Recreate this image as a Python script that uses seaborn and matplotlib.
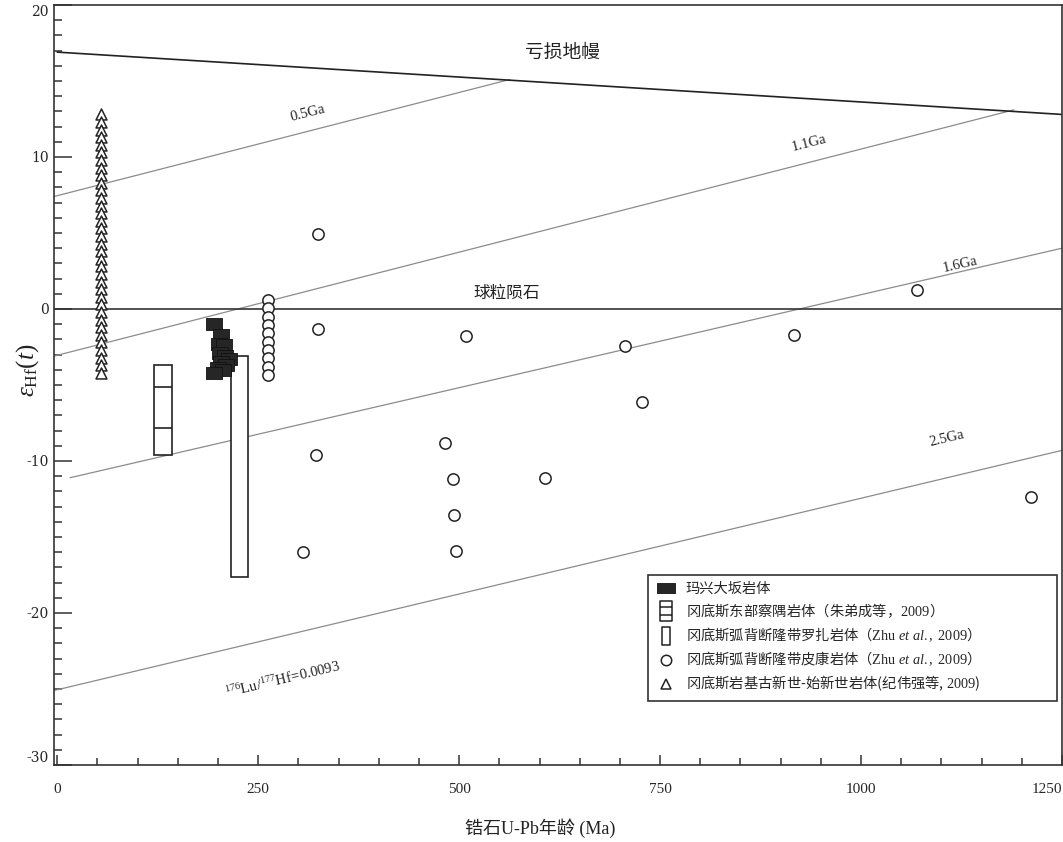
import numpy as np
import pandas as pd
import matplotlib
matplotlib.use("Agg")
import matplotlib.pyplot as plt
from matplotlib.path import Path
from matplotlib.lines import Line2D
from matplotlib.ticker import MultipleLocator
from matplotlib.font_manager import FontProperties
import seaborn as sns

# ---------------------------------------------------------------- data
# Depleted mantle and chondrite (CHUR) evolution lines: age (Ma), εHf(t)
dm_age = [0, 1250]
dm_eps = [16.9, 12.8]
chur_age = [-4, 1250]
chur_eps = [0.0, 0.0]

# Crustal model-age lines (176Lu/177Hf = 0.0093), start and end points
model_names = ["0.5Ga", "1.1Ga", "1.6Ga", "2.5Ga"]
model_age_start = [-4, -4, 16, -4]
model_eps_start = [7.4, -3.1, -11.1, -25.1]
model_age_end = [563, 1190, 1250, 1250]
model_eps_end = [15.1, 13.1, 4.0, -9.3]
model_label_age = [312, 935, 1123, 1107]
model_label_eps = [12.9, 10.9, 2.9, -8.5]
model_label_rot = [14.3, 14.4, 13.0, 13.4]

# Maxing Daban pluton (filled squares)
mx_age = [195, 204, 201, 208, 203, 209, 214, 204, 210, 200, 206, 195]
mx_eps = [-1.0, -1.7, -2.3, -2.4, -2.9, -3.1, -3.3, -3.5, -3.7, -3.9, -4.0, -4.2]

# Eastern Gangdese, Chayu pluton: age range, εHf range and inner dividers
cy_age = [120.5, 143.0]
cy_eps = [-3.7, -9.6]
cy_div = [-5.1, -7.8]

# Gangdese back-arc uplift, Luozha pluton: age range and εHf range
lz_age = [216.0, 237.0]
lz_eps = [-3.1, -17.6]

# Gangdese back-arc uplift, Pikang pluton (open circles)
pk_age = [262, 262, 262, 262, 262, 262, 262, 262, 262, 262,
          325, 324, 509, 706, 917, 1070, 728, 483, 492, 607,
          494, 496, 322, 306, 1212]
pk_eps = [0.6, 0.05, -0.5, -1.05, -1.6, -2.15, -2.7, -3.25, -3.8, -4.35,
          4.93, -1.32, -1.78, -2.43, -1.71, 1.25, -6.12, -8.82, -11.18, -11.12,
          -13.55, -15.92, -9.61, -15.99, -12.37]

# Gangdese batholith, Paleocene-Eocene plutons (open triangles)
gd_age = [55] * 35
gd_eps = [12.8, 12.3, 11.8, 11.3, 10.8, 10.3, 9.8, 9.3, 8.8, 8.3,
          7.8, 7.3, 6.8, 6.3, 5.8, 5.3, 4.8, 4.3, 3.8, 3.3,
          2.8, 2.3, 1.8, 1.3, 0.8, 0.3, -0.2, -0.7, -1.2, -1.7,
          -2.2, -2.7, -3.2, -3.7, -4.2]

legend_labels = [
    "玛兴大坂岩体",
    "冈底斯东部察隅岩体（朱弟成等，$\\mathrm{2009}$）",
    "冈底斯弧背断隆带罗扎岩体（$\\mathrm{Zhu}\\ \\mathit{et\\ al.}\\mathrm{,\\ 2009}$）",
    "冈底斯弧背断隆带皮康岩体（$\\mathrm{Zhu}\\ \\mathit{et\\ al.}\\mathrm{,\\ 2009}$）",
    "冈底斯岩基古新世-始新世岩体(纪伟强等, $\\mathrm{2009}$)",
]

# --------------------------------------------------------------- style
sns.set_style("white")
plt.rcParams["font.family"] = ["Noto Sans CJK SC", "DejaVu Sans"]
plt.rcParams["mathtext.fontset"] = "custom"
plt.rcParams["mathtext.rm"] = "Liberation Serif"
plt.rcParams["mathtext.it"] = "Liberation Serif:italic"
plt.rcParams["mathtext.bf"] = "Liberation Serif:bold"
plt.rcParams["axes.unicode_minus"] = False

ink = "#222222"
grey = "#8c8c8c"

fig = plt.figure(figsize=(10.63, 8.42), dpi=100)
ax = fig.add_axes([54 / 1063, 77 / 842, 1008 / 1063, 760 / 842])
ax.set_xlim(-4, 1250)
ax.set_ylim(-30, 20)

# evolution lines
ax.plot(dm_age, dm_eps, color=ink, lw=1.2, zorder=2)
ax.plot(chur_age, chur_eps, color="#333333", lw=1.2, zorder=2)
for a0, e0, a1, e1 in zip(model_age_start, model_eps_start, model_age_end, model_eps_end):
    ax.plot([a0, a1], [e0, e1], color=grey, lw=0.9, zorder=1)

serif = ["Liberation Serif", "DejaVu Serif"]
for name, a, e, r in zip(model_names, model_label_age, model_label_eps, model_label_rot):
    ax.text(a, e, name, family=serif, fontsize=10.5, rotation=r,
            rotation_mode="anchor", ha="center", va="center", color=ink)
ax.text(281, -24.4, "$^{176}\\mathrm{Lu}/^{177}\\mathrm{Hf}\\!=\\!0.0093$",
        fontsize=10.5, rotation=13.4, rotation_mode="anchor",
        ha="center", va="center", color=ink)
ax.text(629, 16.9, "亏损地幔", fontsize=13.5, weight="medium",
        ha="center", va="center", color=ink)
ax.text(559, 1.0, "球粒陨石", fontsize=12, weight="medium",
        ha="center", va="center", color=ink)

# range boxes
ax.bar(np.mean(cy_age), cy_eps[1] - cy_eps[0], bottom=cy_eps[0],
       width=cy_age[1] - cy_age[0], facecolor="white", edgecolor=ink, lw=1.2, zorder=3)
ax.hlines(cy_div, cy_age[0], cy_age[1], color=ink, lw=1.2, zorder=3)
ax.bar(np.mean(lz_age), lz_eps[1] - lz_eps[0], bottom=lz_eps[0],
       width=lz_age[1] - lz_age[0], facecolor="white", edgecolor=ink, lw=1.2, zorder=3)

# point data
rect_marker = Path([(-0.5, -0.4), (0.5, -0.4), (0.5, 0.4), (-0.5, 0.4), (-0.5, -0.4)],
                   [Path.MOVETO, Path.LINETO, Path.LINETO, Path.LINETO, Path.CLOSEPOLY])
sns.scatterplot(x=mx_age, y=mx_eps, marker=rect_marker, s=118, color="#262626",
                edgecolor="#111111", linewidth=0.6, ax=ax, zorder=5)
sns.scatterplot(x=pk_age, y=pk_eps, marker="o", s=66, color="white",
                edgecolor=ink, linewidth=1.1, ax=ax, zorder=4)
sns.scatterplot(x=gd_age, y=gd_eps, marker="^", s=62, color="white",
                edgecolor=ink, linewidth=1.1, ax=ax, zorder=4)

# axes, ticks
for sp in ax.spines.values():
    sp.set_color("#333333")
    sp.set_linewidth(1.2)
ax.yaxis.set_major_locator(MultipleLocator(10))
ax.yaxis.set_minor_locator(MultipleLocator(1))
ax.xaxis.set_major_locator(MultipleLocator(250))
ax.xaxis.set_minor_locator(MultipleLocator(50))
ax.tick_params(axis="both", which="both", direction="in", color="#333333", width=1.1,
               bottom=True, left=True, top=False, right=False)
ax.tick_params(axis="y", which="major", length=13, pad=4, labelsize=10)
ax.tick_params(axis="y", which="minor", length=5.5)
ax.tick_params(axis="x", which="major", length=7, pad=13, labelsize=11)
ax.tick_params(axis="x", which="minor", length=5)

fig.canvas.draw()
for lab in ax.get_yticklabels():
    lab.set_family(["DejaVu Serif"])
    if lab.get_text() == "20":
        lab.set_va("top")
    elif lab.get_text() == "-30":
        lab.set_va("bottom")
for lab in ax.get_xticklabels():
    lab.set_family(serif)
    if lab.get_text() == "1250":
        lab.set_ha("right")

ax.set_xlabel("锆石U-Pb年龄 (Ma)", family=["Liberation Serif", "Noto Sans CJK SC"],
              fontsize=13, color=ink)
ax.xaxis.set_label_coords(0.482, -0.07)
ax.set_ylabel("$\\varepsilon_{\\mathrm{Hf}}(t)$", fontsize=18, color=ink)
ax.yaxis.set_label_coords(-0.013, 0.52)

# legend
def box_path(w, dividers):
    verts = [(-w / 2, -0.5), (w / 2, -0.5), (w / 2, 0.5), (-w / 2, 0.5), (-w / 2, -0.5)]
    codes = [Path.MOVETO, Path.LINETO, Path.LINETO, Path.LINETO, Path.CLOSEPOLY]
    for d in dividers:
        verts += [(-w / 2, d), (w / 2, d)]
        codes += [Path.MOVETO, Path.LINETO]
    return Path(verts, codes)

leg_square = Path([(-0.5, -0.3), (0.5, -0.3), (0.5, 0.3), (-0.5, 0.3), (-0.5, -0.3)],
                  [Path.MOVETO, Path.LINETO, Path.LINETO, Path.LINETO, Path.CLOSEPOLY])
handles = [
    Line2D([], [], ls="none", marker=leg_square, markersize=12.5,
           mfc="#262626", mec="#111111", mew=0.6),
    Line2D([], [], ls="none", marker=box_path(0.6, [-0.17, 0.17]), markersize=15,
           mfc="white", mec=ink, mew=1.1),
    Line2D([], [], ls="none", marker=box_path(0.5, []), markersize=12.5,
           mfc="white", mec=ink, mew=1.1),
    Line2D([], [], ls="none", marker="o", markersize=7.5, mfc="white", mec=ink, mew=1.1),
    Line2D([], [], ls="none", marker="^", markersize=7.5, mfc="white", mec=ink, mew=1.1),
]
leg = ax.legend(handles, legend_labels, loc="upper left",
                bbox_to_anchor=(0.589, 0.089, 0.406, 0.161), mode="expand",
                borderaxespad=0, frameon=True, fancybox=False, framealpha=1,
                edgecolor="#333333",
                prop=FontProperties(family=["Noto Sans CJK SC"], size=10.3, weight="medium"),
                handlelength=1.6, handletextpad=0.55, labelspacing=0.38, borderpad=0.5)
leg.get_frame().set_linewidth(1.2)

fig.savefig("out.png", dpi=100, facecolor="white")
